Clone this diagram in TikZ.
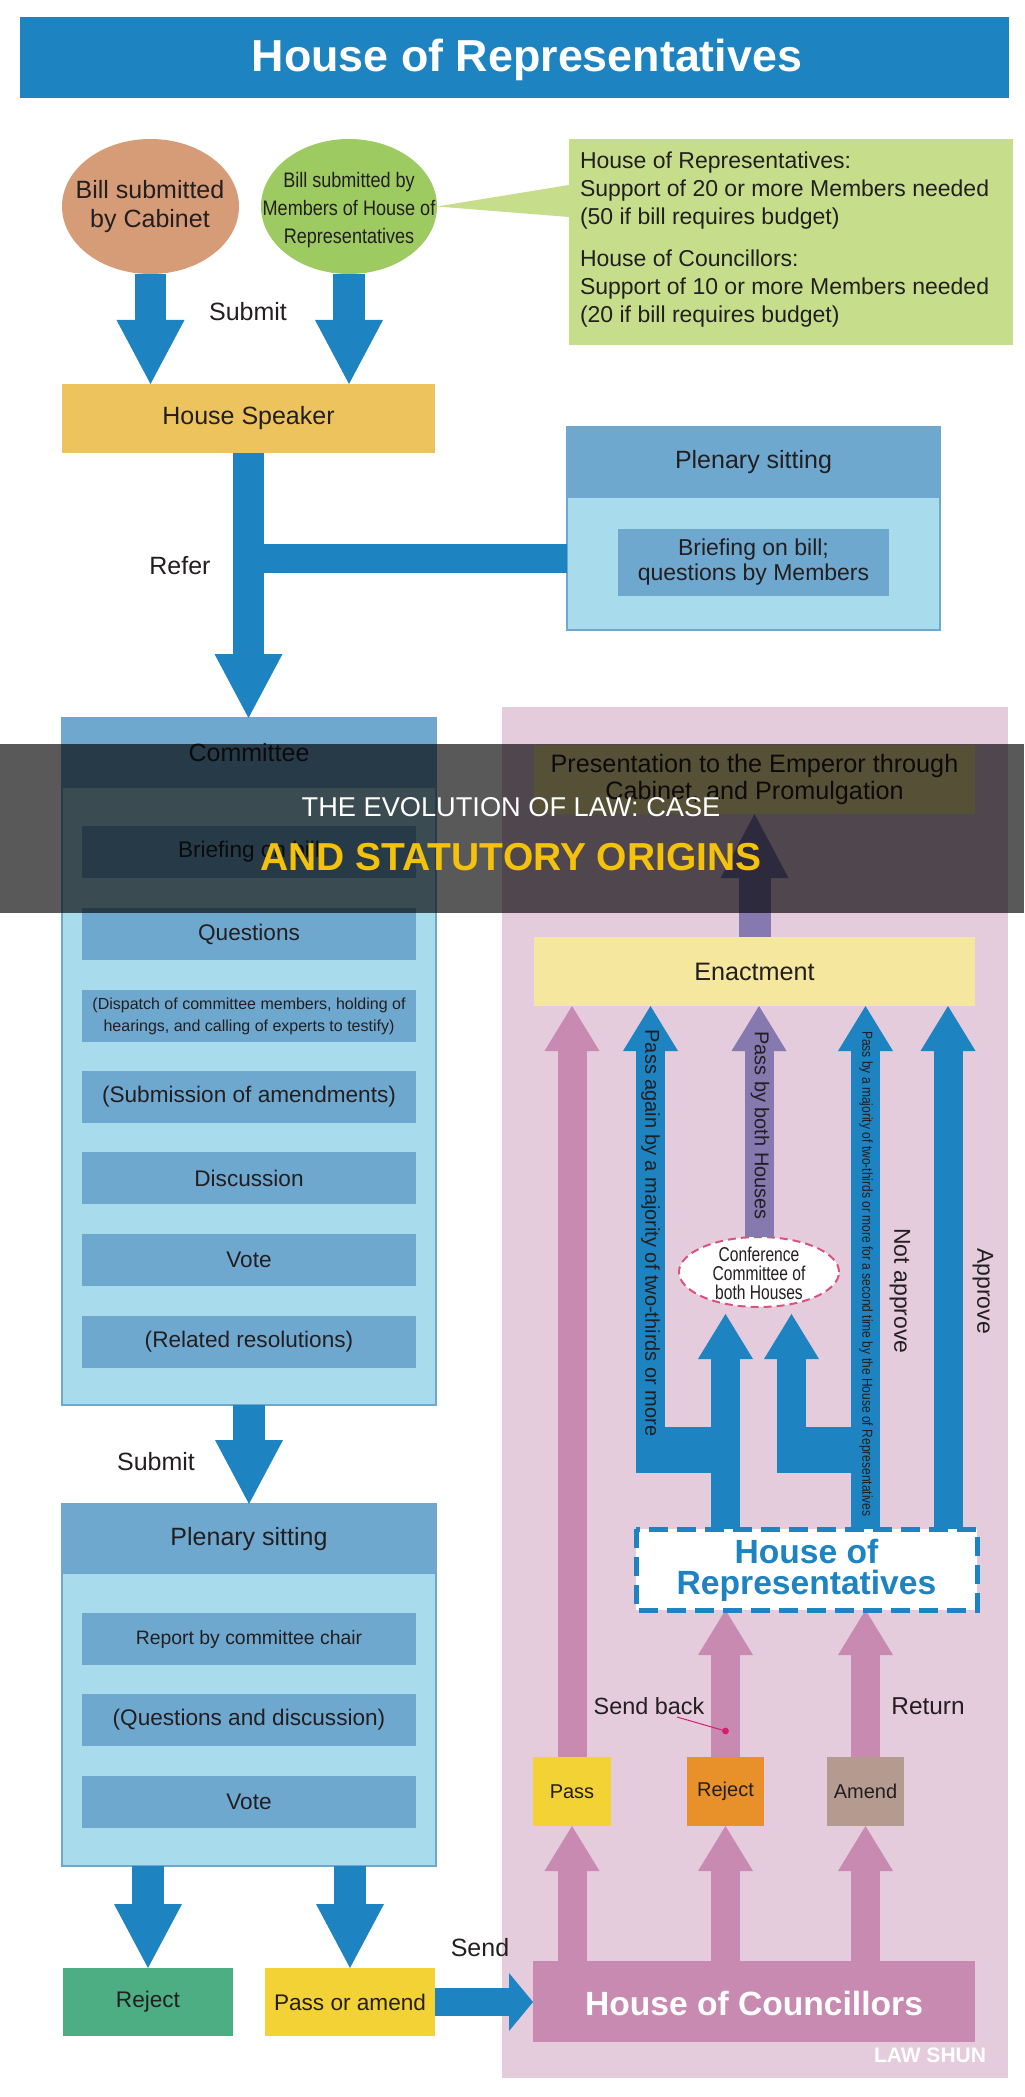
\documentclass[tikz,border=0pt]{standalone}
\usepackage{fontspec}
\setmainfont{Liberation Sans}
\newfontfamily\condA{Liberation Sans}[FakeStretch=0.86]
\newfontfamily\condB{Liberation Sans}[FakeStretch=0.78]
\newfontfamily\condC{Liberation Sans}[FakeStretch=0.83]
\usetikzlibrary{arrows.meta,shapes.geometric,fit}
\definecolor{mainblue}{HTML}{1D83C1}
\definecolor{headblue}{HTML}{6FA8CF}
\definecolor{lightblue}{HTML}{A8DBEB}
\definecolor{pinkbg}{HTML}{E4CCDD}
\definecolor{pinkarr}{HTML}{C88AB0}
\definecolor{purplearr}{HTML}{8679B0}
\definecolor{enactY}{HTML}{F5E79D}
\definecolor{goldc}{HTML}{EDC35E}
\definecolor{tanc}{HTML}{D69C77}
\definecolor{leaf}{HTML}{9DCB62}
\definecolor{lgreen}{HTML}{C6DE8B}
\definecolor{rejgreen}{HTML}{4DAE83}
\definecolor{passY}{HTML}{F2D234}
\definecolor{orangec}{HTML}{E8912B}
\definecolor{taupe}{HTML}{B59B8F}
\definecolor{ink}{HTML}{231F20}
\definecolor{confpink}{HTML}{D9537F}
\definecolor{magentac}{HTML}{D51F6E}
\definecolor{ovyellow}{HTML}{F4C20D}
\newcommand\fsz[2]{\fontsize{#1}{#2}\selectfont}
\begin{document}
\begin{tikzpicture}[x=0.5pt,y=-0.5pt,
  every node/.style={text=ink,inner sep=0pt,outer sep=0pt,font=\fsz{12.5}{15}},
  arrA/.style={draw=mainblue,line width=15.75pt,-{Triangle[length=32pt,width=34pt,line width=0pt]}},
  arrP/.style={draw=purplearr,line width=16pt,-{Triangle[length=32pt,width=34pt,line width=0pt]}},
  arrB/.style={draw=mainblue,line width=14.5pt,-{Triangle[length=22.5pt,width=27.5pt,line width=0pt]}},
  arrBp/.style={arrB,draw=pinkarr},
  arrBu/.style={arrB,draw=purplearr},
  sendarr/.style={draw=mainblue,line width=14pt,-{Triangle[length=12pt,width=29pt,line width=0pt]}},
  inbox/.style={fill=headblue},
  intext/.style={font=\fsz{11.3}{13}},
  outbox/.style={fill=lightblue,draw=headblue,line width=1pt},
]
\useasboundingbox (0,0) rectangle (1024,2097);
\fill[white] (0,0) rectangle (1024,2097);

% title
\node[fit={(20,17)(1009,98)},fill=mainblue] (banner) {};
\node[anchor=base,text=white,font=\bfseries\fsz{22.4}{26}] (titletext) at (527,72) {House of Representatives};

% bill sources
\node[ellipse,fill=tanc,minimum width=88.5pt,minimum height=67.5pt] (cab) at (150.5,206.5) {};
\node[align=center,font=\fsz{12.5}{14.5}] (cabt) at (150,207) {Bill submitted\\by Cabinet};
\node[ellipse,fill=leaf,minimum width=88pt,minimum height=67.5pt] (mem) at (349,206.5) {};
\node[align=center,font=\condA\fsz{10.5}{14}] (memt) at (349,210) {Bill submitted by\\Members of House of\\Representatives};
\fill[lgreen] (mem.east) -- (569,185) -- (569,217) -- cycle;
\node[fit={(569,139)(1013,345)},fill=lgreen] (gbox) {};
\node[anchor=west,align=left,font=\fsz{11.5}{14}] (gtext) at (580,240) {House of Representatives:\\Support of 20 or more Members needed\\(50 if bill requires budget)\\[7pt]House of Councillors:\\Support of 10 or more Members needed\\(20 if bill requires budget)};

\node[fit={(62,384)(435,453)},fill=goldc] (speaker) {};
\node (speakert) at (speaker.center) {House Speaker};
\draw[arrA] (cab.south) -- (cab.south |- speaker.north);
\draw[arrA] (mem.south) -- (mem.south |- speaker.north);
\node (lsub1) at (248,312) {Submit};

% plenary sitting (top)
\node[outbox,fit={(567,427)(940,630)}] (plen1) {};
\node[fit={(567,427)(940,498)},fill=headblue] (plen1h) {};
\node (plen1ht) at (plen1h.center) {Plenary sitting};
\node[fit={(618,529)(889,596)},fill=headblue] (plen1i) {};
\node[align=center,font=\fsz{11.5}{12.5}] (plen1it) at (plen1i.center) {Briefing on bill;\\questions by Members};

% committee
\node[outbox,fit={(62,718)(436,1405)}] (comm) {};
\node[fit={(62,718)(436,788)},fill=headblue] (commh) {};
\node (commht) at (commh.center) {Committee};
\node[inbox,fit={(82,826)(416,878)}] (c1) {};
\node[intext] (c1t) at (c1.center) {Briefing on bill};
\node[inbox,fit={(82,908)(416,960)}] (c2) {};
\node[intext] (c2t) at (c2.center) {Questions};
\node[inbox,fit={(82,990)(416,1042)}] (c3) {};
\node[align=center,font=\fsz{8}{11}] (c3t) at (c3.center) {(Dispatch of committee members, holding of\\hearings, and calling of experts to testify)};
\node[inbox,fit={(82,1071)(416,1123)}] (c4) {};
\node[intext] (c4t) at (c4.center) {(Submission of amendments)};
\node[inbox,fit={(82,1152)(416,1204)}] (c5) {};
\node[intext] (c5t) at (c5.center) {Discussion};
\node[inbox,fit={(82,1234)(416,1286)}] (c6) {};
\node[intext] (c6t) at (c6.center) {Vote};
\node[inbox,fit={(82,1316)(416,1368)}] (c7) {};
\node[intext] (c7t) at (c7.center) {(Related resolutions)};

\draw[arrA] (speaker.south) -- (speaker.south |- comm.north);
\coordinate (br) at (249,558.5);
\draw[mainblue,line width=14.5pt] (br) -- (br -| plen1.west);
\node (lrefer) at (180,566) {Refer};

% plenary sitting (bottom)
\node[outbox,fit={(62,1504)(436,1866)}] (plen2) {};
\node[fit={(62,1504)(436,1574)},fill=headblue] (plen2h) {};
\node (plen2ht) at (plen2h.center) {Plenary sitting};
\node[inbox,fit={(82,1613)(416,1665)}] (p1) {};
\node[font=\fsz{9.7}{12}] (p1t) at (p1.center) {Report by committee chair};
\node[inbox,fit={(82,1694)(416,1746)}] (p2) {};
\node[intext] (p2t) at (p2.center) {(Questions and discussion)};
\node[inbox,fit={(82,1776)(416,1828)}] (p3) {};
\node[intext] (p3t) at (p3.center) {Vote};
\draw[arrA] (comm.south) -- (comm.south |- plen2.north);
\node (lsub2) at (156,1462) {Submit};

\node[fit={(63,1968)(233,2036)},fill=rejgreen] (rejL) {};
\node[intext] (rejLt) at (rejL.center) {Reject};
\node[fit={(265,1968)(435,2036)},fill=passY] (passam) {};
\node[intext] (passamt) at (passam.center) {Pass or amend};
\draw[arrA] (rejL.north |- plen2.south) -- (rejL.north);
\draw[arrA] (passam.north |- plen2.south) -- (passam.north);

% right side
\node[fit={(502,707)(1008,2078)},fill=pinkbg] (pinkarea) {};
\node[fit={(534,745)(975,814)},fill=enactY] (pres) {};
\node[align=center,font=\fsz{12.6}{13.5}] (prest) at (pres.center) {Presentation to the Emperor through\\Cabinet, and Promulgation};
\node[fit={(534,937)(975,1006)},fill=enactY] (enact) {};
\node[font=\fsz{12.6}{15}] (enactt) at (enact.center) {Enactment};
\draw[arrP] (enact.north) -- (pres.south);

\node[fit={(533,1961)(975,2042)},fill=pinkarr] (council) {};
\node[text=white,font=\bfseries\fsz{16.8}{19}] (councilt) at ([yshift=-1pt]council.center) {House of Councillors};
\draw[sendarr] (passam.east) -- (passam.east -| council.west);
\node (lsend) at (480,1948) {Send};

\node[fit={(533,1757)(611,1826)},fill=passY] (passR) {};
\node[font=\fsz{10}{12}] (passRt) at (passR.center) {Pass};
\node[fit={(687,1757)(764,1826)},fill=orangec] (rejR) {};
\node[font=\fsz{10}{12}] (rejRt) at (rejR.center) {Reject};
\node[fit={(827,1757)(904,1826)},fill=taupe] (amend) {};
\node[font=\fsz{10}{12}] (amendt) at (amend.center) {Amend};
\draw[arrBp] (passR.south |- council.north) -- (passR.south);
\draw[arrBp] (rejR.south |- council.north) -- (rejR.south);
\draw[arrBp] (amend.south |- council.north) -- (amend.south);

\node[fit={(636,1529)(977,1610)},fill=white] (hor) {};
\draw[arrBp] (rejR.north) -- (rejR.north |- hor.south);
\draw[arrBp] (amend.north) -- (amend.north |- hor.south);
\draw[arrBp] (passR.north) -- (passR.north |- enact.south);

% conference committee
\node[ellipse,fill=white,draw=confpink,line width=1pt,dash pattern=on 4pt off 2.5pt,minimum width=80pt,minimum height=35pt] (conf) at (759,1272) {};
\node[align=center,font=\condB\fsz{10}{9.5}] (conft) at (759,1273) {Conference\\Committee of\\both Houses};
\draw[arrBu] (conf.north) -- (conf.north |- enact.south);

% blue paths from House of Representatives
\coordinate (paL) at (650.5,1473);
\coordinate (cfL) at (725.5,1314);
\coordinate (cfR) at (791.5,1314);
\coordinate (cfRb) at (791.5,1473);
\coordinate (apv) at (948,1529);
\fill[mainblue] (636,1427) rectangle (740,1473);
\fill[mainblue] (777,1427) rectangle (880,1473);
\draw[arrB] (paL) -- (paL |- enact.south);
\draw[arrB] (cfL |- hor.north) -- (cfL);
\draw[arrB] (cfRb) -- (cfR);
\draw[arrB] (amend.north |- hor.north) -- (amend.north |- enact.south);
\draw[arrB] (apv |- hor.north) -- (apv |- enact.south);

\draw[mainblue,line width=2.5pt,dash pattern=on 9.5pt off 4.5pt] (hor.north west) rectangle (hor.south east);
\node[align=center,text=mainblue,font=\bfseries\fsz{16.8}{15.5}] (hort) at (806.5,1570) {House of\\Representatives};

% rotated labels
\node[rotate=-90,font=\fsz{10}{12}] (lpa) at (650.5,1233) {Pass again by a majority of two-thirds or more};
\node[rotate=-90,anchor=west,font=\fsz{10}{12}] (lpb) at (760,1031) {Pass by both Houses};
\node[rotate=-90,anchor=west,font=\condC\fsz{7.25}{9}] (lpm) at (866,1031) {Pass by a majority of two-thirds or more for a second time by the House of Representatives};
\node[rotate=-90,font=\fsz{11.5}{13}] (lna) at (900,1291) {Not approve};
\node[rotate=-90,font=\fsz{11.5}{13}] (lap) at (983,1291) {Approve};

% send back / return
\node[font=\fsz{11.7}{14}] (lsb) at (649,1706) {Send back};
\node[font=\fsz{12.2}{14}] (lret) at (928,1706) {Return};
\node[circle,fill=magentac,minimum size=3.4pt] (sbdot) at (725.5,1731) {};
\coordinate (sbp) at (677,1717);
\draw[magentac,line width=0.5pt] (sbp) -- (sbdot);

\node[text=white,font=\bfseries\fsz{10.5}{12}] (wm) at (930,2055) {LAW SHUN};

% overlay banner
\fill[black,fill opacity=0.65] (0,744) rectangle (1024,913);
\node[text=white,font=\fsz{13.6}{16}] (ov1) at (511,807) {THE EVOLUTION OF LAW: CASE};
\node[text=ovyellow,font=\bfseries\fsz{19.5}{22}] (ov2) at (511,857) {AND STATUTORY ORIGINS};
\end{tikzpicture}
\end{document}
